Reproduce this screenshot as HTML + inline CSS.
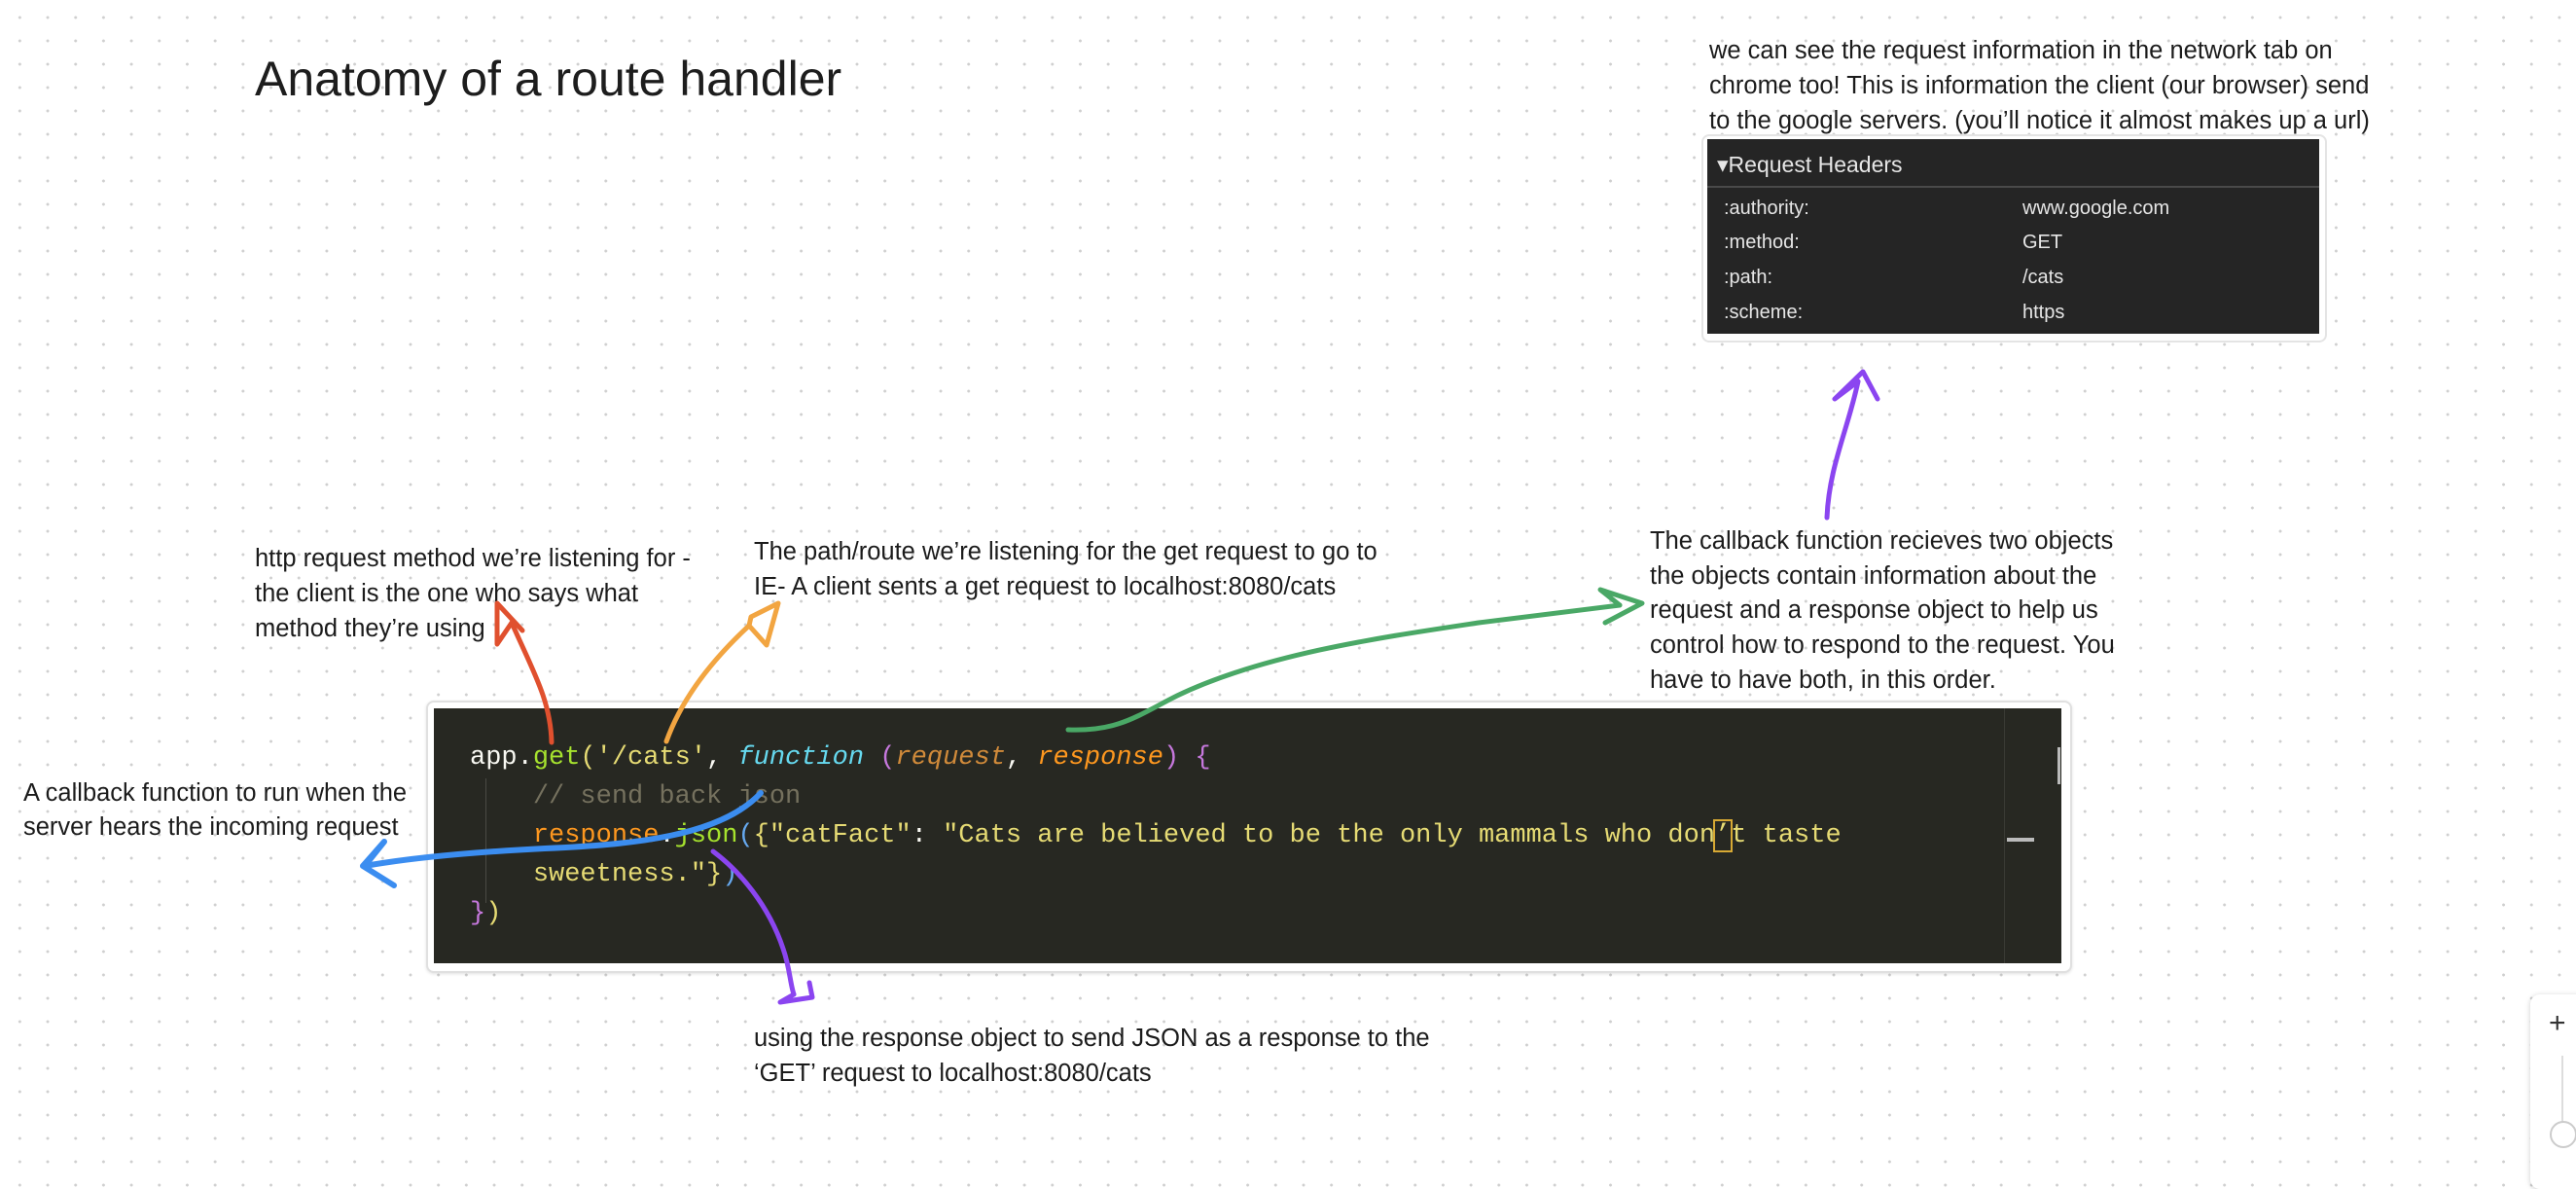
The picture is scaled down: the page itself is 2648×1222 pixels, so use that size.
<!DOCTYPE html>
<html><head><meta charset="utf-8">
<style>
html,body{margin:0;padding:0}
body{width:2648px;height:1206px;position:relative;overflow:hidden;background-color:#fff;
background-image:radial-gradient(circle,#cfcfcf 1.3px,transparent 1.6px);background-size:28.7px 24px;background-position:6px 6px;
font-family:"Liberation Sans",sans-serif;color:#1a1a1a}
.t{position:absolute;font-size:25.5px;line-height:36px;white-space:nowrap;color:#1b1b1b}
.title{position:absolute;left:262px;top:52px;font-size:50px;color:#1d1d1d;white-space:nowrap}
.codewrap{position:absolute;left:438px;top:720px;width:1688px;height:276px;border:2px solid #e0e0e0;border-radius:8px;background:#fff;box-shadow:0 1px 3px rgba(0,0,0,.12)}
.code{position:absolute;left:446px;top:728px;width:1673px;height:262px;background:#272822}
.code pre{position:absolute;left:37px;top:31px;margin:0;font-family:"Liberation Mono",monospace;font-size:27px;line-height:40px;color:#f8f8f2}
.g{color:#a6e22e}.s{color:#e6db74}.f{color:#66d9ef;font-style:italic}.p{color:#fd971f;font-style:italic}.pu{color:#c678dd}.c{color:#75715e}.y{color:#e6db74}.b{color:#66a9ef}
.panel{position:absolute;left:1749px;top:138px;width:639px;height:210px;border:2px solid #e4e4e4;border-radius:8px;background:#fff}
.pd{position:absolute;left:1755px;top:143px;width:629px;height:200px;background:#252525;color:#e6e6e6;font-size:20px}
.pd .h{position:absolute;left:10px;top:13px;font-size:23px}
.pd .ln{position:absolute;left:0;top:48px;width:629px;height:2px;background:#4a4a4a}
.pd .r{position:absolute;white-space:nowrap}
</style></head><body>
<div class="title">Anatomy of a route handler</div>

<div class="t" style="left:1757px;top:34px">we can see the request information in the network tab on<br>chrome too! This is information the client (our browser) send<br>to the google servers. (you’ll notice it almost makes up a url)</div>

<div class="panel"></div>
<div class="pd">
<div class="h">▾Request Headers</div>
<div class="ln"></div>
<div class="r" style="left:17px;top:60px">:authority:</div><div class="r" style="left:324px;top:60px">www.google.com</div>
<div class="r" style="left:17px;top:95px">:method:</div><div class="r" style="left:324px;top:95px">GET</div>
<div class="r" style="left:17px;top:131px">:path:</div><div class="r" style="left:324px;top:131px">/cats</div>
<div class="r" style="left:17px;top:167px">:scheme:</div><div class="r" style="left:324px;top:167px">https</div>
</div>

<div class="t" style="left:262px;top:556px">http request method we’re listening for -<br>the client is the one who says what<br>method they’re using</div>
<div class="t" style="left:775px;top:549px">The path/route we’re listening for the get request to go to<br>IE- A client sents a get request to localhost:8080/cats</div>
<div class="t" style="left:1696px;top:539px;line-height:35.7px">The callback function recieves two objects<br>the objects contain information about the<br>request and a response object to help us<br>control how to respond to the request. You<br>have to have both, in this order.</div>
<div class="t" style="left:24px;top:798px;line-height:35px">A callback function to run when the<br>server hears the incoming request</div>
<div class="t" style="left:775px;top:1049px">using the response object to send JSON as a response to the<br>‘GET’ request to localhost:8080/cats</div>

<div class="codewrap"></div>
<div class="code">
<div style="position:absolute;left:1614px;top:0;width:1px;height:262px;background:#3a3a34"></div>
<div style="position:absolute;left:1617px;top:133px;width:28px;height:4px;background:#bbb"></div>
<div style="position:absolute;left:1669px;top:40px;width:3px;height:38px;background:#bbb"></div>
<div style="position:absolute;left:53px;top:72px;width:1px;height:128px;background:#4a4a44"></div>
<pre>app.<span class="g">get</span><span class="y">(</span><span class="s">'/cats'</span>, <span class="f">function</span> <span class="pu">(</span><span class="p" style="color:#d08a3a">request</span>, <span class="p">response</span><span class="pu">)</span> <span class="pu">{</span>
    <span class="c">// send back json</span>
    <span class="p" style="font-style:normal">response</span>.<span class="g">json</span><span class="b">(</span><span class="y">{</span><span class="s">"catFact"</span>: <span class="s">"Cats are believed to be the only mammals who don<span style="outline:2px solid #d7a934">’</span>t taste</span>
    <span class="s">sweetness."</span><span class="y">}</span><span class="b">)</span>
<span class="pu">}</span><span class="y">)</span></pre>
</div>

<svg width="2648" height="1206" style="position:absolute;left:0;top:0" fill="none" stroke-linecap="round" stroke-linejoin="round">
<path d="M567 763 C566 720 548 690 526 640" stroke="#e0502e" stroke-width="5"/>
<path d="M526 640 L511 662 L511 620 L537 648" stroke="#e0502e" stroke-width="5"/>
<path d="M685 762 C700 720 730 680 770 643" stroke="#f2a541" stroke-width="5"/>
<path d="M770 643 L788 663 L800 620 L772 634 Z" stroke="#f2a541" stroke-width="5"/>
<path d="M1098 750 C1150 752 1170 735 1210 715 C1300 672 1420 655 1520 640 C1600 630 1640 625 1665 622" stroke="#4aa866" stroke-width="5"/>
<path d="M1665 622 L1645 606 L1688 620 L1650 640" stroke="#4aa866" stroke-width="5"/>
<path d="M1878 532 C1880 480 1900 440 1910 392" stroke="#8b45f0" stroke-width="5"/>
<path d="M1910 392 L1886 410 L1915 382 L1930 410" stroke="#8b45f0" stroke-width="5"/>
<path d="M782 815 C740 860 650 868 560 872 C480 876 420 882 375 890" stroke="#3b8df0" stroke-width="6"/>
<path d="M375 890 L395 865 L373 890 L405 910" stroke="#3b8df0" stroke-width="6"/>
<path d="M733 875 C760 895 790 930 805 975 C812 995 812 1010 816 1022" stroke="#8b45f0" stroke-width="5"/>
<path d="M816 1022 L802 1030 L835 1025 L832 1010" stroke="#8b45f0" stroke-width="5"/>
</svg>

<div style="position:absolute;left:2601px;top:1022px;width:60px;height:200px;background:#fff;border-radius:10px;box-shadow:0 1px 6px rgba(0,0,0,.2)"></div>
<div style="position:absolute;left:2620px;top:1035px;font-size:30px;color:#333">+</div>
<div style="position:absolute;left:2633px;top:1085px;width:2px;height:80px;background:#ddd"></div>
<div style="position:absolute;left:2621px;top:1152px;width:24px;height:24px;border-radius:50%;border:2px solid #ccc;background:#fff"></div>
</body></html>
